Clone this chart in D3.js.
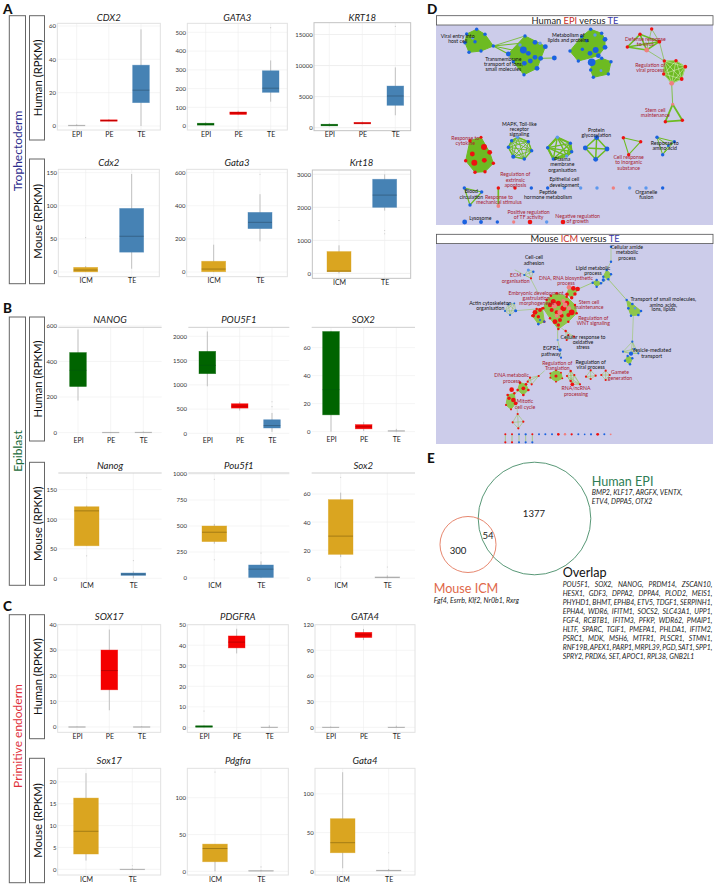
<!DOCTYPE html>
<html><head><meta charset="utf-8">
<script src="https://cdnjs.cloudflare.com/ajax/libs/d3/7.8.5/d3.min.js"></script>
<style>
html,body{margin:0;padding:0;background:#fff}
svg{display:block}
text{font-family:Lato,"Open Sans",sans-serif}
</style></head><body><svg id="c" width="716" height="886"></svg>
<script>
// ---------- DATA: box plots (index-aligned) ----------
const geneTitles = ['CDX2','GATA3','KRT18','Cdx2','Gata3','Krt18','NANOG','POU5F1','SOX2','Nanog','Pou5f1','Sox2','SOX17','PDGFRA','GATA4','Sox17','Pdgfra','Gata4'];
const humanStages = ['EPI','PE','TE'];
const mouseStages = ['ICM','TE'];
// per gene, per stage: [whisker low, q1, median, q3, whisker high]
const boxStats = [
 [[0,0.1,0.3,0.5,1],[2.8,2.9,3.2,3.7,4.2],[0,14,21.5,36.5,58]],
 [[2,5,10,15,22],[58,62,70,75,82],[130,180,202,295,350]],
 [[200,300,420,550,750],[520,620,720,850,1000],[2000,3600,5100,6700,9700]],
 [[0,0.3,3,7,9],[5,30,54,96,148]],
 [[0,2,18,65,165],[185,262,300,360,470]],
 [[0,50,70,660,850],[1900,2000,2370,2850,3000]],
 [[180,259,350,450,580],[0,0.5,1,2,3],[0,0.5,1.5,2.5,6]],
 [[970,1230,1400,1690,2100],[470,520,560,610,650],[30,110,160,280,420]],
 [[0,12,30,71.5,72],[0.5,2,3.5,5,7],[0,0.3,0.5,0.7,2]],
 [[55,55,114,121,123],[0,5,7,9,12]],
 [[330,350,440,500,520],[0,5,85,125,160]],
 [[15,17,30,56,61],[0,0.3,0.5,0.9,2]],
 [[0,0,0.05,0.1,0.2],[6.5,14.5,22,30,38],[0,0,0.05,0.1,0.3]],
 [[0,0.1,0.4,0.8,1],[36,38.7,41.5,44.5,48],[0,0,0.1,0.2,1]],
 [[0,0,0.2,0.4,1],[102,105,108,111,115],[0,0,0.2,0.4,2]],
 [[2,3.5,8.7,16.3,22],[-0.1,-0.05,0,0.05,0.2]],
 [[0,13,31,37,37],[0,0.2,0.5,1,2]],
 [[4,24,37,68,128],[0.3,0.5,1,1.5,3]]
];
const outlierValues = [
 [[],[],[]],
 [[],[],[525]],
 [[],[],[16300]],
 [[52],[]],
 [[],[590]],
 [[1600],[1200,1300]],
 [[],[],[]],
 [[],[],[550,650]],
 [[],[],[]],
 [[38,170],[30]],
 [[175,950],[240]],
 [[8,72],[8]],
 [[],[],[]],
 [[8],[],[]],
 [[],[],[]],
 [[],[0.8]],
 [[135],[6]],
 [[],[24]]
];
const axisTicks = [
 [0,20,40,60],[0,100,200,300,400,500],[0,5000,10000,15000],
 [0,50,100,150],[0,200,400,600],[0,1000,2000,3000],
 [0,200,400,600],[0,500,1000,1500,2000],[0,20,40,60],
 [0,50,100,150],[0,250,500,750,1000],[0,20,40,60],
 [0,10,20,30,40],[0,10,20,30,40,50],[0,30,60,90,120],
 [0,5,10,15,20],[0,50,100],[0,50,100]
];
const axisDomains = [
 [-2.4,61.6],[-21,548],[-480,16900],
 [-7,155],[-28,620],[-150,3130],
 [-23,592],[-69,2185],[-2.4,74.5],
 [-4.5,178],[-29,1010],[-2,75],
 [-2.1,39.9],[-2.4,50],[-5.8,120],
 [-1.3,23.1],[-5,140],[-4.7,133]
];

// ---------- DATA: enrichment maps (map coordinates; size = gene-set size class) ----------
const humanClusters = [
 {k:'hull',n:[[155,88,1,'B'],[125,102,1,'B'],[180,103,1,'B'],[120,128,1,'B'],[150,125,1,'B'],[205,138,1,'B'],[168,153,1,'B'],[132,157,1,'B'],[143,115,.7,'L']]},
 {k:'hull',n:[[300,108,1,'B'],[330,127,2,'B'],[361,140,2,'B'],[345,130,1,'L'],[295,150,4,'B'],[285,135,1,'L'],[250,162,2,'B'],[310,160,2,'B'],[330,172,2,'B'],[316,183,2,'B'],[347,175,2,'B'],[298,190,2,'B'],[336,205,2,'B'],[265,185,1,'B'],[297,224,1,'B']]},
 {k:'hull',n:[[497,88,1,'B'],[530,100,1,'B'],[510,105,1,'L'],[470,110,1,'B'],[540,118,2,'B'],[485,122,1,'B'],[540,142,2,'B'],[512,150,3,'B'],[435,153,1,'B'],[472,148,1,'B'],[495,160,2,'B'],[520,167,2,'B'],[460,183,1,'B']]},
 {k:'hull',n:[[500,187,5,'B'],[530,175,1,'B'],[558,185,1,'B'],[550,222,1,'B'],[505,232,1,'B'],[497,210,1,'B'],[528,212,.7,'L']]},
 {k:'clique',w:1.6,n:[[645,103,1,'R'],[703,125,1.3,'R'],[607,141,1,'R'],[665,150,2,'P']]},
 {k:'hull',n:[[718,183,1,'R'],[753,182,1,'R'],[781,200,1.2,'R'],[770,237,1.2,'R'],[740,250,2,'P'],[716,222,1,'R']],w:.8},
 {k:'clique',w:1.8,n:[[743,313,.8,'P'],[772,361,1,'R'],[721,365,1,'R']]},
 {k:'hull',n:[[135,422,1,'R'],[168,412,.8,'R'],[177,441,3,'R'],[194,457,2,'R'],[142,462,2,'R'],[122,482,1,'R'],[148,488,3,'R'],[178,481,2,'R'],[205,490,1,'R'],[180,515,1,'R'],[150,517,1,'R']]},
 {k:'ring',w:.9,n:[[278,412,1,'L'],[310,425,1,'B'],[320,452,1,'B'],[298,477,1,'B'],[265,470,1.5,'B'],[250,442,1,'B'],[260,422,1,'B']]},
 {k:'ring',w:1.4,n:[[397,412,1,'L'],[436,430,1,'B'],[440,455,1,'B'],[425,468,1,'L'],[385,477,1,'B'],[368,443,1,'B']]},
 {k:'clique',w:1.5,n:[[515,413,2,'B'],[546,447,2,'B'],[512,478,2,'B'],[481,444,2,'B']]},
 {k:'clique',w:1.1,n:[[595,413,1,'R'],[647,425,1,'R'],[611,464,1,'R']]},
 {k:'clique',w:1,n:[[696,412,1,'B'],[748,425,1,'B'],[713,464,1,'B'],[730,437,.6,'B']]},
 {k:'clique',w:1.2,n:[[118,564,1,'B'],[170,576,1,'B'],[135,615,1,'B']]},
 {k:'clique',w:1.7,n:[[220,564,1,'R'],[220,618,1.2,'P']]}
];
const humanSingles = [[270,564,1,'R'],[319,564,1,'B'],[368,564,1,'B'],[418,564,1,'L'],[467,564,1,'L'],[516,564,1,'L'],[565,564,1,'P'],[614,564,1,'L'],[663,564,1,'L'],[713,564,1,'B'],[119,666,2,'B'],[168,666,1.3,'B'],[217,666,1,'B'],[266,666,.9,'P'],[315,666,1.8,'R'],[365,666,1,'L'],[414,666,1.8,'R'],[388,174,2,'B'],[680,87,1,'R']];
const humanLinks = [[205,138,250,162,1.2],[205,138,285,130,1],[205,138,262,150,1],[205,138,300,108,.8],[347,175,388,174,.9],[297,224,265,185,.9],[680,87,665,150,.6],[680,87,703,125,.6],[665,150,718,183,.6],[703,125,718,183,.6],[740,250,743,313,.8],[472,148,435,153,.8],[460,183,435,153,.8]];

const mouseClusters = [
 {k:'clique',w:.5,n:[[310,135,.8,'L'],[325,140,.5,'B'],[318,160,.4,'R'],[298,150,.4,'B']]},
 {k:'clique',w:.5,n:[[240,258,.4,'B'],[250,238,.4,'B'],[255,270,.4,'B'],[272,257,.8,'B'],[268,235,.3,'B']]},
 {k:'hull',n:[[365,225,.5,'R'],[378,212,.5,'R'],[395,205,.5,'R'],[425,215,.5,'R'],[450,240,.5,'R'],[455,265,.5,'R'],[430,290,.5,'R'],[400,312,.5,'R'],[375,280,.5,'R'],[355,250,.5,'R']]},
 {k:'hull',n:[[335,252,.5,'R'],[352,250,.5,'R'],[358,290,.5,'R'],[340,297,.5,'B'],[322,272,.5,'R']]},
 {k:'hull',n:[[345,285,.4,'B'],[358,290,.4,'B'],[340,298,.4,'B']]},
 {k:'hull',n:[[432,187,1.8,'P'],[445,190,1.8,'R'],[458,192,1.8,'R'],[450,207,1,'R'],[440,218,1,'R'],[426,208,1,'R']]},
 {k:'clique',w:.5,n:[[422,318,.5,'R'],[430,330,.4,'R'],[447,335,.4,'R'],[425,345,.4,'R']]},
 {k:'hull',n:[[545,135,.5,'B'],[558,148,.5,'B'],[550,163,.5,'B'],[535,155,.5,'B']]},
 {k:'hull',n:[[503,173,.5,'B'],[515,165,.5,'B'],[528,175,.5,'B'],[515,185,.5,'B']]},
 {k:'hull',n:[[605,225,.5,'B'],[622,237,.6,'B'],[648,258,.6,'B'],[640,270,.6,'B'],[618,272,.5,'B'],[610,250,.6,'B'],[630,250,.5,'L']]},
 {k:'clique',w:.5,n:[[622,350,.4,'B'],[594,380,.4,'B'],[618,386,1.5,'B'],[640,385,.4,'B'],[628,372,.4,'B']]},
 {k:'hull',n:[[608,393,.5,'B'],[622,400,.5,'B'],[615,418,.5,'B'],[600,407,.5,'B']]},
 {k:'hull',n:[[393,436,.3,'R'],[408,443,.3,'R'],[412,460,.3,'R'],[393,470,.3,'R'],[376,458,.3,'R'],[376,445,.3,'R']]},
 {k:'clique',w:.5,n:[[341,453,.4,'R'],[315,458,.4,'R'],[320,478,.4,'R'],[308,470,.4,'R']]},
 {k:'hull',n:[[285,473,.6,'R'],[303,478,.6,'R'],[310,495,.6,'R'],[295,510,.6,'R'],[278,495,.6,'R']]},
 {k:'hull',n:[[248,510,.6,'R'],[268,505,.5,'R'],[272,535,1.2,'R'],[258,553,.4,'R'],[243,540,.4,'R']]},
 {k:'clique',w:.5,n:[[437,438,.5,'R'],[448,450,.4,'R'],[437,468,.5,'R'],[426,453,.4,'R'],[442,478,1.2,'R'],[465,478,.4,'R']]},
 {k:'clique',w:.5,n:[[497,436,.4,'R'],[512,452,.4,'R'],[497,462,.4,'R'],[483,455,.4,'R']]},
 {k:'clique',w:.5,n:[[542,437,.4,'R'],[554,450,.4,'R'],[542,465,.4,'R'],[529,450,.4,'R']]},
 {k:'clique',w:.5,n:[[278,567,.4,'R'],[295,590,.4,'R'],[280,610,.4,'R'],[263,592,.4,'R']]},
 {k:'clique',w:.6,n:[[241,628,.35,'R'],[241,652,.4,'R']]},
 {k:'clique',w:.6,n:[[261,628,.35,'R'],[261,652,.4,'R']]},
 {k:'clique',w:.6,n:[[282,628,.35,'B'],[282,652,.4,'B']]},
 {k:'clique',w:.6,n:[[302,628,.45,'B'],[302,652,.4,'B']]},
 {k:'clique',w:.6,n:[[322,628,.35,'R'],[322,652,.4,'B']]}
];
const mouseSingles = [
 [385,230,2.2,'R'],[375,240,1.6,'R'],[400,235,2.2,'R'],[415,250,2.8,'R'],[380,255,1.4,'R'],[395,262,1.4,'R'],[425,235,2.2,'R'],[440,262,2.8,'R'],[410,272,1.4,'R'],[390,290,2,'R'],[405,285,1.4,'R'],[400,300,1,'R'],[430,270,1.4,'R'],
 [388,242,2.2,'P'],[420,240,2,'P'],[405,262,2.2,'P'],[395,272,1.4,'P'],[415,228,1.4,'P'],[432,250,1.4,'P'],
 [330,262,2,'R'],[345,255,1.3,'R'],[325,272,1,'R'],[340,275,1,'R'],[405,375,1,'B'],[398,345,.4,'L'],[408,398,.4,'B'],
 [558,65,.5,'B'],[558,110,.5,'B'],[535,165,.9,'B'],[393,453,.8,'R'],[260,494,1.8,'R'],[265,525,1.8,'R'],[252,520,1,'R'],[295,490,1.2,'R'],
 [342,628,.35,'B'],[361,628,.35,'B'],[381,628,.35,'B'],[400,628,.6,'R'],[420,628,.5,'P'],[440,628,.45,'R'],[460,628,.35,'B'],[479,628,.25,'B'],[498,628,.4,'B'],[518,628,.7,'R'],[538,628,.35,'B'],[557,628,.3,'P']
];
const mouseLinks = [[340,205,318,163,.5],[270,135,318,160,.5],[272,257,335,252,.5],[398,310,398,345,.6],[398,345,405,375,.5],[405,375,408,398,.4],[410,310,422,318,.5],[460,192,503,173,.7],[528,175,545,163,.7],[545,135,558,110,.5],[558,110,558,65,.5],[550,163,605,225,.7],[625,272,622,350,.5],[341,453,358,438,.5],[315,458,303,478,.5],[268,505,285,495,.6],[278,567,275,540,.4],[437,468,442,478,.5]];

// ---------- DATA: labels (text lines, map x, map baseline ys, class) ----------
const humanLabels = [
 [['Viral entry into','host cell'],98,[113,129],'k'],
 [['Transmembrane','transport of ions,','small molecules'],235,[183,198,214],'k'],
 [['Metabolism of','lipids and proteins'],430,[110,125],'k'],
 [['Defense response','to virus'],661,[122,137],'r'],
 [['Regulation of','viral process'],676,[201,216],'r'],
 [['Stem cell','maintenance'],691,[335,350],'r'],
 [['Response to','cytokine'],121,[420,436],'r'],
 [['MAPK, Toll-like','receptor','signaling'],283,[377,392,408],'k'],
 [['Protein','glycosylation'],514,[396,412],'k'],
 [['Response to','amino acid'],719,[435,451],'k'],
 [['Plasma','membrane','organisation'],412,[483,499,516],'k'],
 [['Cell response','to inorganic','substance'],611,[478,493,509],'r'],
 [['Regulation of','extrinsic','apoptosis'],271,[529,545,560],'r'],
 [['Epithelial cell','development'],418,[544,560],'k'],
 [['Peptide','hormone metabolism'],369,[581,596],'k'],
 [['Organelle','fusion'],664,[581,596],'k'],
 [['Blood','circulation'],139,[580,596],'k'],
 [['Response to','mechanical stimulus'],222,[596,611],'r'],
 [['Lysosome'],166,[660],'k'],
 [['Positive regulation','of TF activity'],311,[642,657],'r'],
 [['Negative regulation','of growth'],458,[654,669],'r']
];
const mouseLabels = [
 [['Cellular amide','metabolic','process'],606,[73,88,104],'k'],
 [['Cell-cell','adhesion'],327,[103,119],'k'],
 [['Lipid metabolic','process'],504,[135,151],'k'],
 [['ECM','organisation'],272,[157,173],'r'],
 [['DNA, RNA biosynthetic','process'],423,[166,181],'r'],
 [['Transport of small molecules,','amino acids,','ions, lipids'],715,[229,245,259],'k'],
 [['Embryonic development,','gastrulation,','morphogenesis'],335,[210,225,240],'r'],
 [['Stem cell','maintenance'],492,[236,252],'r'],
 [['Regulation of','WNT signaling'],505,[285,300],'r'],
 [['Actin cytoskeleton','organisation'],196,[239,255],'k'],
 [['Cellular response to','oxidative','stress'],474,[342,357,373],'k'],
 [['EGFR1','pathway'],378,[376,392],'k'],
 [['Vesicle-mediated','transport'],680,[382,398],'k'],
 [['Regulation of','Translation'],397,[420,436],'r'],
 [['Regulation of','viral process'],497,[418,433],'k'],
 [['Gamete','generation'],585,[448,464],'r'],
 [['DNA metabolic','process'],260,[457,473],'r'],
 [['RNA/ncRNA','processing'],453,[495,512],'r'],
 [['Mitotic','cell cycle'],300,[535,553],'r']
];

// ---------- DATA: Venn ----------
const vennHumanOnly = 1377, vennShared = 54, vennMouseOnly = 300;
const humanSpecific = ['BMP2, KLF17, ARGFX, VENTX,','ETV4, DPPA5, OTX2'];
const mouseSpecific = ['Fgf4, Esrrb, Klf2, Nr0b1, Rxrg'];
const overlapGenes = [
 'POU5F1, SOX2, NANOG, PRDM14, ZSCAN10,',
 'HESX1, GDF3, DPPA2, DPPA4, PLOD2, MEIS1,',
 'PHYHD1, BHMT, EPHB4, ETV5, TDGF1, SERPINH1,',
 'EPHA4, WDR6, IFITM1, SOCS2, SLC43A1, UPP1,',
 'FGF4, RCBTB1, IFITM3, PFKP, WDR62, PMAIP1,',
 'HLTF, SPARC, TGIF1, PMEPA1, PHLDA1, IFITM2,',
 'PSRC1, MDK, MSH6, MTFR1, PLSCR1, STMN1,',
 'RNF19B, APEX1, PARP1, MRPL39, PGD, SAT1, SPP1,',
 'SPRY2, PRDX6, SET, APOC1, RPL38, GNB2L1'
];

// ---------- LAYOUT (reference pixels x3, relative to a y origin) ----------
// [originY, x0, x1, yTop, yBottom, firstCatX, lastCatX, boxW, titleBaseline, frameStyle]
const frames = [
 [0,172,481,70,390,230,423,50,62,'box'],[0,562,862,70,390,617,812,50,62,'box'],[0,942,1232,68,392,988,1186,50,62,'dark'],
 [0,175,478,508,830,257,395,72,499,'box'],[0,560,862,508,830,641,780,72,499,'box'],[0,937,1232,510,835,1017,1154,72,499,'dark'],
 [295,175,485,97,425,234,430,50,85,'top'],[295,565,868,97,425,622,816,50,85,'top'],[295,935,1245,97,420,993,1189,50,85,'top'],
 [295,175,485,534,858,260,400,74,523,'top'],[295,565,868,534,858,643,783,74,523,'top'],[295,935,1245,534,858,1022,1162,74,523,'top'],
 [590,173,482,104,427,231,425,50,90,'box'],[590,562,865,104,427,612,808,50,90,'box'],[590,945,1245,104,427,992,1189,50,90,'box'],
 [590,173,482,535,855,258,397,74,522,'box'],[590,562,865,535,855,645,783,74,522,'box'],[590,945,1245,535,855,1028,1166,74,522,'box']
];
const stageColor = {EPI:'#006400',PE:'#f40000',TE:'#4682b4',ICM:'#daa520'};
const median = {EPI:'#005a08',PE:'#a80000',TE:'#2f5877',ICM:'#8d6a10'};

const svg = d3.select('#c');
const g = svg.append('g');

// --- side boxes and rotated labels ---
const sideSections = [
 {t:'Trophectoderm',c:'#2b2b8c',y0:15.7,y1:283.7,hy:[15.7,140],my:[159,283.7],letter:'A',ly:14,cy:151},
 {t:'Epiblast',c:'#1b6b3a',y0:317,y1:585.3,hy:[317,441],my:[462.3,585.3],letter:'B',ly:313,cy:451},
 {t:'Primitive endoderm',c:'#e0303a',y0:614.7,y1:882.7,hy:[614.7,738.7],my:[758.3,882.7],letter:'C',ly:611,cy:736}
];
sideSections.forEach(s=>{
  g.append('rect').attr('x',9.3).attr('y',s.y0).attr('width',16.2).attr('height',s.y1-s.y0).attr('fill','#fff').attr('stroke','#666').attr('stroke-width',1);
  [[s.hy,'Human (RPKM)'],[s.my,'Mouse (RPKM)']].forEach(([r,t])=>{
    g.append('rect').attr('x',29.5).attr('y',r[0]).attr('width',15).attr('height',r[1]-r[0]).attr('fill','#fff').attr('stroke','#666').attr('stroke-width',1);
    g.append('text').attr('transform',`translate(41.5,${(r[0]+r[1])/2}) rotate(-90)`).attr('text-anchor','middle').attr('font-size',11.3).attr('fill','#111').text(t);
  });
  g.append('text').attr('transform',`translate(21.8,${s.cy}) rotate(-90)`).attr('text-anchor','middle').attr('font-size',12).attr('fill',s.c).text(s.t);
  g.append('text').attr('x',3).attr('y',s.ly).attr('font-size',13.5).attr('font-weight',900).attr('fill','#111').text(s.letter);
});

// --- box plots ---
geneTitles.forEach((title,i)=>{
  const [org,x0z,x1z,ytz,ybz,c0z,c1z,bwz,tbz,style] = frames[i];
  const px=v=>v/3, py=v=>org+v/3;
  const x0=px(x0z),x1=px(x1z),yt=py(ytz),yb=py(ybz),bw=px(bwz);
  const stages = boxStats[i].length===3?humanStages:mouseStages;
  const x = d3.scalePoint().domain(stages).range([px(c0z),px(c1z)]);
  const y = d3.scaleLinear().domain(axisDomains[i]).range([yb,yt]);
  const p = g.append('g');
  p.selectAll('.h').data(axisTicks[i]).join('line').attr('x1',x0).attr('x2',x1).attr('y1',d=>y(d)).attr('y2',d=>y(d)).attr('stroke',i===2||i===5?'#e4e4e4':'#efefef').attr('stroke-width',.6);
  p.selectAll('.v').data(stages).join('line').attr('x1',d=>x(d)).attr('x2',d=>x(d)).attr('y1',yt).attr('y2',yb).attr('stroke','#efefef').attr('stroke-width',.6);
  if(style==='top'){
    p.append('line').attr('x1',x0).attr('x2',x1).attr('y1',yt).attr('y2',yt).attr('stroke','#cfcfcf').attr('stroke-width',1);
  } else {
    p.append('rect').attr('x',x0).attr('y',yt).attr('width',x1-x0).attr('height',yb-yt).attr('fill','none').attr('stroke',style==='dark'?'#c4c4c4':'#e2e2e2').attr('stroke-width',1);
  }
  const ax = d3.axisLeft(y).tickValues(axisTicks[i]).tickFormat(d3.format('d')).tickSize(0).tickPadding(1.3);
  const ag = p.append('g').attr('transform',`translate(${x0},0)`).call(ax);
  ag.select('.domain').remove();
  ag.selectAll('text').attr('font-size',6).attr('fill','#333').style('font-family','Lato');
  const bx = d3.axisBottom(x).tickSize(0).tickPadding(1.6);
  const bg = p.append('g').attr('transform',`translate(0,${yb})`).call(bx);
  bg.select('.domain').remove();
  bg.selectAll('text').attr('font-size',7).attr('fill','#222').style('font-family','Lato');
  p.append('text').attr('x',(x0+x1)/2).attr('y',py(tbz)).attr('text-anchor','middle').attr('font-size',9.6).attr('font-style','italic').attr('fill','#222').text(title);
  stages.forEach((s,j)=>{
    const [lo,q1,med,q3,hi]=boxStats[i][j];
    const cx=x(s);
    p.append('line').attr('x1',cx).attr('x2',cx).attr('y1',y(lo)).attr('y2',y(hi)).attr('stroke','#c2c2c2').attr('stroke-width',1);
    outlierValues[i][j].forEach(o=>p.append('circle').attr('cx',cx).attr('cy',y(o)).attr('r',.55).attr('fill','#c8c8c8'));
    const h=y(q1)-y(q3);
    const thin=h<1;
    p.append('rect').attr('x',cx-bw/2).attr('y',y(q3)).attr('width',bw).attr('height',Math.max(h,.6))
      .attr('fill',thin?'#909090':stageColor[s]).attr('stroke',thin?'#b5b5b5':stageColor[s]).attr('stroke-opacity',.55).attr('stroke-width',.7);
    if(!thin) p.append('line').attr('x1',cx-bw/2).attr('x2',cx+bw/2).attr('y1',y(med)).attr('y2',y(med)).attr('stroke',median[s]).attr('stroke-width',.7);
  });
});

// --- enrichment maps ---
const mapX = d3.scaleLinear().domain([0,873]).range([425,716]);
const nodeR = d3.scaleSqrt().domain([0,6]).range([0,4.2]);
const nodeFill = {R:'#ee1111',B:'#1a62e0',P:'#f07f7f',L:'#5c98ee'};
const labelFill = {k:'#111',r:'#a8202f'};
function network(top,bottom,offset,clusters,singles,links,labels,green,titleParts){
  const mapY = d3.scaleLinear().domain([0,675]).range([offset,offset+225]);
  const n = g.append('g');
  n.append('rect').attr('x',436).attr('y',top).attr('width',277).attr('height',bottom-top).attr('fill','#ccccea');
  n.append('rect').attr('x',436.5).attr('y',top).attr('width',276.5).attr('height',9.3).attr('fill','#fff').attr('stroke','#555').attr('stroke-width',.8);
  const t = n.append('text').attr('x',575).attr('y',top+8).attr('text-anchor','middle').attr('font-size',9.3).attr('fill','#222');
  titleParts.forEach(([s,c])=>t.append('tspan').attr('fill',c).text(s));
  const edges = n.append('g'), nodes = n.append('g');
  const line=(a,b,w)=>edges.append('line').attr('x1',mapX(a[0])).attr('y1',mapY(a[1])).attr('x2',mapX(b[0])).attr('y2',mapY(b[1])).attr('stroke',green).attr('stroke-width',w).attr('stroke-linecap','round');
  clusters.forEach(c=>{
    if(c.k==='hull'){
      const hull=d3.polygonHull(c.n.map(d=>[mapX(d[0]),mapY(d[1])]));
      edges.append('path').attr('d','M'+hull.join('L')+'Z').attr('fill',green).attr('stroke',green).attr('stroke-width',1).attr('stroke-linejoin','round');
      if(c.w){ c.n.forEach((a,i)=>c.n.slice(i+1).forEach(b=>line(a,b,.5).attr('stroke','#e8f4d0'))); }
    } else {
      const w=c.w;
      c.n.forEach((a,i)=>c.n.slice(i+1).forEach(b=>line(a,b,w)));
      if(c.k==='ring'){ c.n.forEach((a,i)=>line(a,c.n[(i+1)%c.n.length],w*1.5)); }
    }
  });
  links.forEach(l=>line([l[0],l[1]],[l[2],l[3]],l[4]));
  const all=[...clusters.flatMap(c=>c.n),...singles];
  nodes.selectAll('circle').data(all).join('circle').attr('cx',d=>mapX(d[0])).attr('cy',d=>mapY(d[1])).attr('r',d=>nodeR(d[2])).attr('fill',d=>nodeFill[d[3]]);
  labels.forEach(([lines,lx,ys,cls])=>lines.forEach((s,i)=>{
    n.append('text').attr('x',mapX(lx)).attr('y',mapY(ys[i])).attr('text-anchor','middle').attr('font-size',5.2).attr('fill',labelFill[cls]).text(s);
  }));
}
network(15.7,225,0,humanClusters,humanSingles,humanLinks,humanLabels,'#6dbb22',[['Human ','#222'],['EPI','#c8322d'],[' versus ','#222'],['TE','#3a3aa8']]);
network(234.3,444,225,mouseClusters,mouseSingles,mouseLinks,mouseLabels,'#8ec64a',[['Mouse ','#222'],['ICM','#c8322d'],[' versus ','#222'],['TE','#3a3aa8']]);
g.append('text').attr('x',427).attr('y',14).attr('font-size',13.5).attr('font-weight',900).attr('fill','#111').text('D');
g.append('text').attr('x',427).attr('y',463).attr('font-size',13.5).attr('font-weight',900).attr('fill','#111').text('E');

// --- Venn ---
const vennR = d3.scaleSqrt().domain([0,vennHumanOnly+vennShared]).range([0,56.3]);
const cHuman='#2e7d54', cMouse='#e0684a';
g.append('circle').attr('cx',534.5).attr('cy',518.5).attr('r',vennR(vennHumanOnly+vennShared)).attr('fill','none').attr('stroke',cHuman).attr('stroke-width',.8);
g.append('circle').attr('cx',468).attr('cy',544.5).attr('r',vennR(vennMouseOnly+vennShared)).attr('fill','none').attr('stroke',cMouse).attr('stroke-width',.8);
[[vennHumanOnly,534,517],[vennShared,488,539],[vennMouseOnly,458,553.5]].forEach(([v,x,y])=>
  g.append('text').attr('x',x).attr('y',y).attr('text-anchor','middle').attr('font-size',9.6).attr('fill','#222').text(v));
g.append('text').attr('x',591.7).attr('y',486).attr('font-size',12.6).attr('fill',cHuman).text('Human EPI');
g.append('text').attr('x',433.7).attr('y',593).attr('font-size',12.6).attr('fill',cMouse).text('Mouse ICM');
g.append('text').attr('x',562.7).attr('y',576.5).attr('font-size',12.6).attr('fill','#111').text('Overlap');
humanSpecific.forEach((s,i)=>g.append('text').attr('x',591.7).attr('y',494.5+i*9).attr('font-size',7).attr('font-style','italic').attr('fill','#222').text(s));
mouseSpecific.forEach(s=>g.append('text').attr('x',433.7).attr('y',603).attr('font-size',7).attr('font-style','italic').attr('fill','#222').text(s));
overlapGenes.forEach((s,i)=>{
  const t=g.append('text').attr('x',562.7).attr('y',586.8+i*9).attr('font-size',6.9).attr('font-style','italic').attr('fill','#222').text(s);
  if(i<overlapGenes.length-1){
    const gaps=s.split(' ').length-1;
    const extra=(149.6-t.node().getComputedTextLength())/gaps;
    t.style('word-spacing',extra+'px');
  }
});
</script></body></html>
